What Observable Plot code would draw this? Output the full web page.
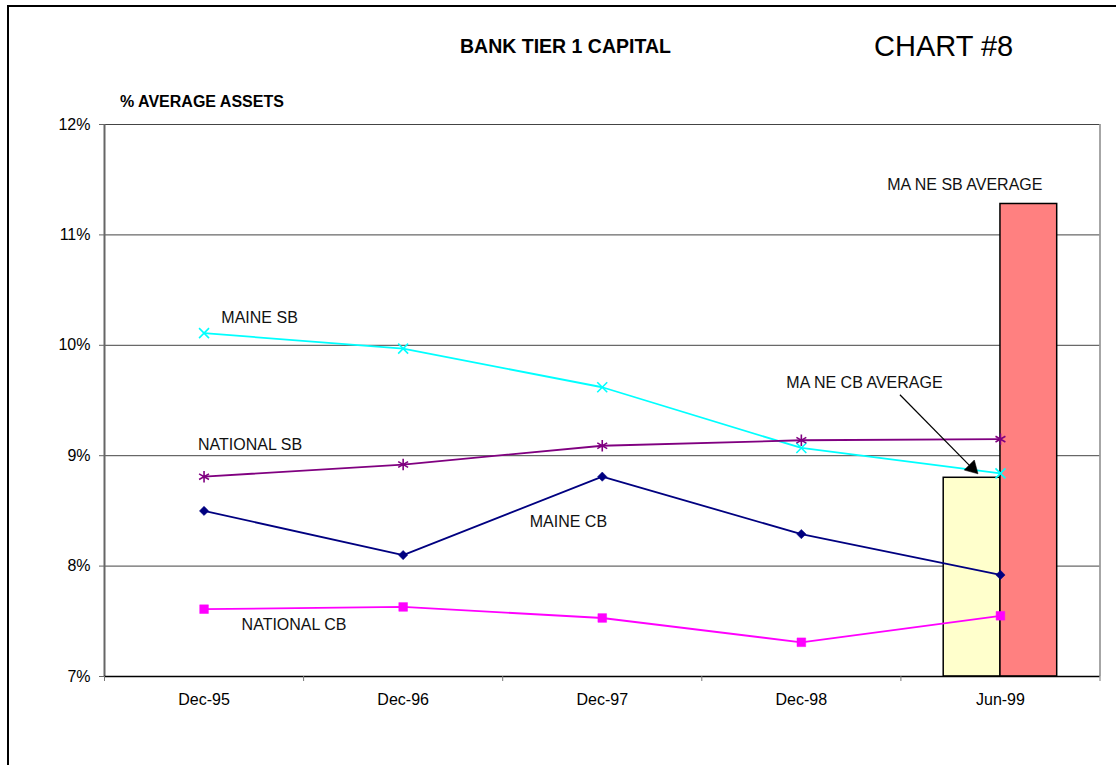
<!DOCTYPE html>
<html>
<head>
<meta charset="utf-8">
<script src="https://cdn.jsdelivr.net/npm/d3@7"></script>
<script src="https://cdn.jsdelivr.net/npm/@observablehq/plot@0.6"></script>
<style>
  body { margin: 0; background: #fff; font-family: Arial, "Liberation Sans", sans-serif; }
  #wrap { position: relative; width: 1116px; height: 765px; overflow: hidden; background: #fff; }
  #frame { position: absolute; left: 7px; top: 5px; width: 1200px; height: 900px;
           border-left: 2px solid #000; border-top: 2px solid #000; }
  .t { position: absolute; white-space: nowrap; color: #000; line-height: 1; }
  #chart { position: absolute; left: 0; top: 0; }
</style>
</head>
<body>
<div id="wrap">
  <div id="frame"></div>
  <div id="chart"></div>
  <div class="t" id="title" style="left:460px; top:36.5px; font-size:19.5px; font-weight:bold;">BANK TIER 1 CAPITAL</div>
  <div class="t" id="chartno" style="left:874px; top:32px; font-size:29px;">CHART #8</div>
  <div class="t" id="ylabel" style="left:120px; top:94px; font-size:16px; font-weight:bold;">% AVERAGE ASSETS</div>
</div>
<script>
// ---- data ----
const categories = ["Dec-95", "Dec-96", "Dec-97", "Dec-98", "Jun-99"];
const maineSB    = [10.11, 9.97, 9.62, 9.07, 8.84];
const nationalSB = [8.81, 8.92, 9.09, 9.14, 9.15];
const maineCB    = [8.50, 8.10, 8.81, 8.29, 7.92];
const nationalCB = [7.61, 7.63, 7.53, 7.31, 7.55];
const barCategory = "Jun-99";
const maNeCBAverage = 8.80;
const maNeSBAverage = 11.28;
const yTicks = [7, 8, 9, 10, 11, 12];
const yTickLabels = ["7%", "8%", "9%", "10%", "11%", "12%"];

// ---- annotation layout (data coordinates: category index, percent) ----
const seriesLabels = [
  {text: "MAINE SB",         x: 0.279, y: 10.252},
  {text: "NATIONAL SB",      x: 0.231, y: 9.101},
  {text: "MAINE CB",         x: 1.830, y: 8.398},
  {text: "NATIONAL CB",      x: 0.452, y: 7.471},
  {text: "MA NE CB AVERAGE", x: 3.317, y: 9.663},
  {text: "MA NE SB AVERAGE", x: 3.821, y: 11.457}
];
const arrowLine = [{x1: 3.495, y1: 9.552, x2: 3.880, y2: 8.846}];
const arrowHead = [{x: 3.858, y: 8.889}];
const barWidth = 0.285; // fraction of a category slot, per bar

// ---- build tables ----
const idx = c => categories.indexOf(c);
const series = [
  {name: "MAINE SB",    values: maineSB,    color: "#00FFFF", symbol: "times",    r: 4.6, fill: "none"},
  {name: "NATIONAL SB", values: nationalSB, color: "#800080", symbol: "asterisk", r: 5.4, fill: "none"},
  {name: "MAINE CB",    values: maineCB,    color: "#000080", symbol: "diamond2", r: 4.2, fill: "#000080"},
  {name: "NATIONAL CB", values: nationalCB, color: "#FF00FF", symbol: "square",   r: 4.9, fill: "#FF00FF"}
];
const bi = idx(barCategory);
const bars = [
  {x1: bi - barWidth, x2: bi, v: maNeCBAverage, fill: "#FFFFCC"},
  {x1: bi, x2: bi + barWidth, v: maNeSBAverage, fill: "#FF8080"}
];
const yMin = yTicks[0];
const boundaries = d3.range(-0.5, categories.length, 1);

const marks = [
  Plot.gridY(yTicks.slice(1), {stroke: "#444", strokeOpacity: 1, strokeWidth: 1}),
  Plot.rect(bars, {x1: "x1", x2: "x2", y1: () => yMin, y2: "v", fill: d => d.fill, stroke: "#000", strokeWidth: 1.5})
];
for (const s of series) {
  const pts = s.values.map((v, i) => ({x: i, y: v}));
  marks.push(Plot.line(pts, {x: "x", y: "y", stroke: s.color, strokeWidth: 1.8}));
}
for (const s of series) {
  const pts = s.values.map((v, i) => ({x: i, y: v}));
  marks.push(Plot.dot(pts, {x: "x", y: "y", symbol: () => s.symbol, r: s.r,
    stroke: s.color, fill: s.fill, strokeWidth: s.fill === "none" ? 1.6 : 0.5}));
}
marks.push(
  Plot.link(arrowLine, {x1: "x1", y1: "y1", x2: "x2", y2: "y2", stroke: "#000", strokeWidth: 1.2}),
  Plot.dot(arrowHead, {x: "x", y: "y", symbol: "triangle", r: 5.3, rotate: 135, fill: "#000", stroke: "#000", strokeWidth: 0.5}),
  Plot.text(seriesLabels, {x: "x", y: "y", text: "text", fill: "#111", fontSize: 16, textAnchor: "middle"}),
  Plot.ruleX([-0.5], {stroke: "#666", strokeWidth: 2}),
  Plot.ruleX([categories.length - 0.5], {stroke: "#888", strokeWidth: 1.5}),
  Plot.ruleY([yMin], {stroke: "#000", strokeWidth: 1.5}),
  Plot.axisY({ticks: yTicks, tickFormat: (d) => yTickLabels[yTicks.indexOf(d)], tickSize: 5, tickPadding: 9, fontSize: 16, stroke: "#666", label: null}),
  Plot.axisX({ticks: boundaries, tickFormat: () => "", tickSize: 5, stroke: "#777", label: null}),
  Plot.axisX({ticks: d3.range(categories.length), tickFormat: (d) => categories[d], tickSize: 0, tickPadding: 17, fontSize: 16, label: null})
);

const chart = Plot.plot({
  width: 1116,
  height: 765,
  marginLeft: 104,
  marginRight: 16.5,
  marginTop: 124,
  marginBottom: 89,
  style: {fontFamily: "Arial, 'Liberation Sans', sans-serif", fontSize: "16px", background: "transparent", color: "#000"},
  x: {type: "linear", domain: [-0.5, categories.length - 0.5]},
  y: {type: "linear", domain: [yTicks[0], yTicks[yTicks.length - 1]]},
  marks
});
document.getElementById("chart").appendChild(chart);
</script>
</body>
</html>
